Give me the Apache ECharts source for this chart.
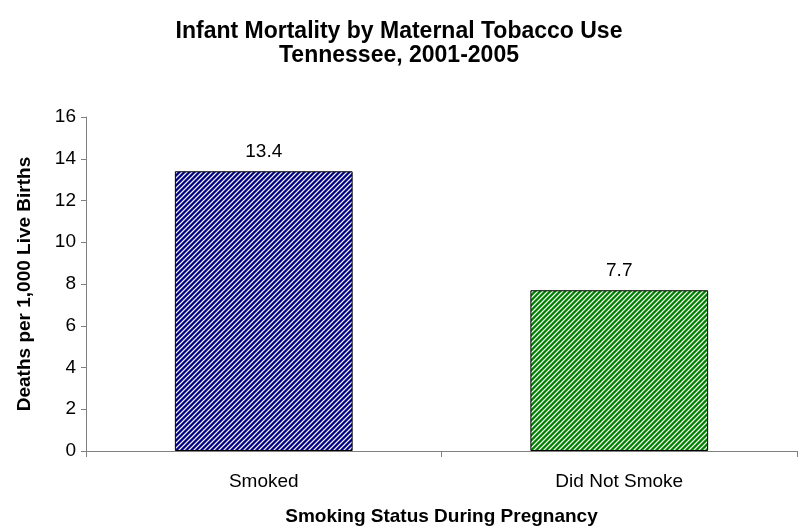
<!DOCTYPE html>
<html>
<head>
<meta charset="utf-8">
<script src="https://cdn.jsdelivr.net/npm/echarts@6/dist/echarts.min.js"></script>
<style>
  html, body { margin: 0; padding: 0; background: #ffffff; }
  #chart { width: 798px; height: 526px; }
</style>
</head>
<body>
<div id="chart"></div>
<script>
// Infant mortality rates (deaths per 1,000 live births), Tennessee 2001-2005
const categories = ['Smoked', 'Did Not Smoke'];
const rates = [13.4, 7.7];
const yTicks = { min: 0, max: 16, interval: 2 };

// Diagonal hatch fill: stripes running bottom-left to top-right
function rgb(hex) {
  return [1, 3, 5].map(k => parseInt(hex.slice(k, k + 2), 16));
}
function makeHatch(dark, light) {
  const size = 10;
  const c = document.createElement('canvas');
  c.width = size; c.height = size;
  const ctx = c.getContext('2d');
  const img = ctx.createImageData(size, size);
  const dk = rgb(dark), lt = rgb(light);
  const mix = [0.0, 0.0, 0.4, 1.0, 0.4];
  for (let y = 0; y < size; y++) {
    for (let x = 0; x < size; x++) {
      const t = mix[(x + y) % 5];
      const i = (y * size + x) * 4;
      for (let ch = 0; ch < 3; ch++) {
        img.data[i + ch] = Math.round(dk[ch] * (1 - t) + lt[ch] * t);
      }
      img.data[i + 3] = 255;
    }
  }
  ctx.putImageData(img, 0, 0);
  return c;
}

const fills = [
  { image: makeHatch('#000080', '#f2f2fa'), repeat: 'repeat' },
  { image: makeHatch('#008000', '#f2faf2'), repeat: 'repeat' }
];

const font = 'Liberation Sans, Arial, Helvetica, sans-serif';
const chart = echarts.init(document.getElementById('chart'), null, { renderer: 'canvas' });

chart.setOption({
  backgroundColor: '#ffffff',
  animation: false,
  title: {
    text: 'Infant Mortality by Maternal Tobacco Use\nTennessee, 2001-2005',
    left: 'center',
    top: 15,
    textStyle: { fontFamily: font, fontSize: 23, fontWeight: 'bold', color: '#000', lineHeight: 24 }
  },
  grid: { left: 86, right: 1, top: 117, bottom: 75, containLabel: false, outerBoundsMode: 'none' },
  xAxis: {
    type: 'category',
    data: categories,
    name: 'Smoking Status During Pregnancy',
    nameLocation: 'middle',
    nameGap: 56,
    nameTextStyle: { fontFamily: font, fontSize: 19, fontWeight: 'bold', color: '#000' },
    axisLine: { lineStyle: { color: '#808080', width: 1 } },
    axisTick: { show: true, length: 6, lineStyle: { color: '#808080' } },
    axisLabel: { fontFamily: font, fontSize: 19, color: '#000', margin: 21 }
  },
  yAxis: {
    type: 'value',
    min: yTicks.min,
    max: yTicks.max,
    interval: yTicks.interval,
    name: 'Deaths per 1,000 Live Births',
    nameLocation: 'middle',
    nameGap: 52,
    nameTextStyle: { fontFamily: font, fontSize: 19, fontWeight: 'bold', color: '#000' },
    axisLine: { show: true, lineStyle: { color: '#808080', width: 1 } },
    axisTick: { show: true, length: 5, inside: false, lineStyle: { color: '#808080' } },
    axisLabel: { fontFamily: font, fontSize: 19, color: '#000', margin: 10 },
    splitLine: { show: false }
  },
  series: [{
    type: 'bar',
    barWidth: '50%',
    data: rates.map((v, i) => ({
      value: v,
      itemStyle: { color: fills[i], borderColor: '#000', borderWidth: 1 }
    })),
    label: {
      show: true,
      position: 'top',
      distance: 10,
      fontFamily: font,
      fontSize: 19,
      color: '#000',
      formatter: p => p.value.toFixed(1)
    }
  }]
});
</script>
</body>
</html>
